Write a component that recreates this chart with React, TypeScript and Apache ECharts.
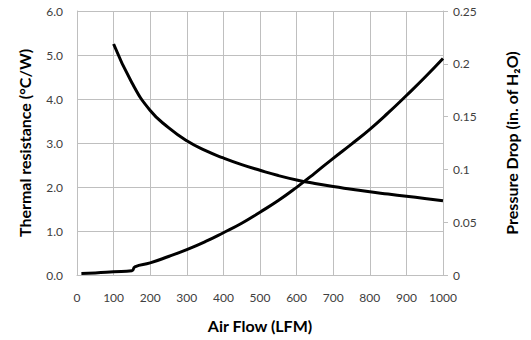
import React, { useEffect, useRef } from "react";
import * as echarts from "echarts";

// Air flow (LFM) vs. thermal resistance of the heat sink
const resistanceFlow = [100, 150, 200, 250, 300, 350, 400, 450, 500, 550, 600, 650, 700, 750, 800, 850, 900, 950, 1000];
const resistanceValues = [5.25, 4.37, 3.74, 3.35, 3.05, 2.83, 2.66, 2.51, 2.38, 2.26, 2.16, 2.08, 2.01, 1.95, 1.89, 1.84, 1.79, 1.74, 1.69];

// Air flow (LFM) vs. pressure drop across the heat sink
const pressureFlow = [12, 50, 100, 150, 158, 200, 250, 300, 350, 400, 450, 500, 550, 600, 650, 700, 750, 800, 850, 900, 950, 1000];
const pressureValues = [0.0015, 0.002, 0.003, 0.004, 0.0078, 0.0115, 0.0175, 0.024, 0.0315, 0.04, 0.049, 0.0595, 0.0705, 0.083, 0.0965, 0.1105, 0.124, 0.138, 0.1535, 0.17, 0.187, 0.205];

const FONT = "Lato, 'Open Sans', sans-serif";
const GRID_COLOR = "#bfbfbf";
const LABEL_COLOR = "#404040";

export default function App() {
  const ref = useRef<HTMLDivElement>(null);

  useEffect(() => {
    if (!ref.current) return;
    const chart = echarts.init(ref.current, undefined, { renderer: "svg" });
    const nameStyle = { fontFamily: FONT, fontSize: 16, fontWeight: "bold", color: "#000" };
    chart.setOption({
      animation: false,
      backgroundColor: "#ffffff",
      grid: { left: 77, right: 88, top: 11, bottom: 65, containLabel: false },
      xAxis: {
        type: "value",
        min: 0,
        max: 1000,
        interval: 100,
        name: "Air Flow (LFM)",
        nameLocation: "middle",
        nameGap: 42,
        nameTextStyle: nameStyle,
        axisLine: { show: true, lineStyle: { color: GRID_COLOR, width: 1 } },
        axisTick: { show: false },
        axisLabel: {
          fontFamily: FONT,
          fontSize: 12,
          color: LABEL_COLOR,
          margin: 16,
          formatter: (v: number) => String(v),
        },
        splitLine: { show: true, lineStyle: { color: GRID_COLOR, width: 1 } },
      },
      yAxis: [
        {
          type: "value",
          position: "left",
          min: 0,
          max: 6,
          interval: 1,
          name: "Thermal resistance (°C/W)",
          nameLocation: "middle",
          nameRotate: 90,
          nameGap: 45,
          nameTextStyle: nameStyle,
          axisLine: { show: true, lineStyle: { color: GRID_COLOR, width: 1 } },
          axisTick: { show: false },
          axisLabel: {
            fontFamily: FONT,
            fontSize: 12,
            color: LABEL_COLOR,
            margin: 14,
            formatter: (v: number) => v.toFixed(1),
          },
          splitLine: { show: true, lineStyle: { color: GRID_COLOR, width: 1 } },
        },
        {
          type: "value",
          position: "right",
          min: 0,
          max: 0.25,
          interval: 0.05,
          name: "Pressure Drop (in. of H₂O)",
          nameLocation: "middle",
          nameRotate: 90,
          nameGap: 60,
          nameTextStyle: nameStyle,
          axisLine: { show: true, lineStyle: { color: GRID_COLOR, width: 1 } },
          axisTick: { show: true, length: 5, inside: false, lineStyle: { color: GRID_COLOR } },
          axisLabel: { fontFamily: FONT, fontSize: 12, color: LABEL_COLOR, margin: 10 },
          splitLine: { show: false },
        },
      ],
      series: [
        {
          name: "Thermal resistance",
          type: "line",
          yAxisIndex: 0,
          smooth: 0.5,
          showSymbol: false,
          lineStyle: { color: "#000", width: 3 },
          data: resistanceFlow.map((f, i) => [f, resistanceValues[i]]),
        },
        {
          name: "Pressure drop",
          type: "line",
          yAxisIndex: 1,
          smooth: 0.5,
          showSymbol: false,
          lineStyle: { color: "#000", width: 3 },
          data: pressureFlow.map((f, i) => [f, pressureValues[i]]),
        },
      ],
    });
    return () => chart.dispose();
  }, []);

  return (
    <div
      ref={ref}
      style={{ position: "absolute", left: 0, top: 0, width: 531, height: 340 }}
    />
  );
}
